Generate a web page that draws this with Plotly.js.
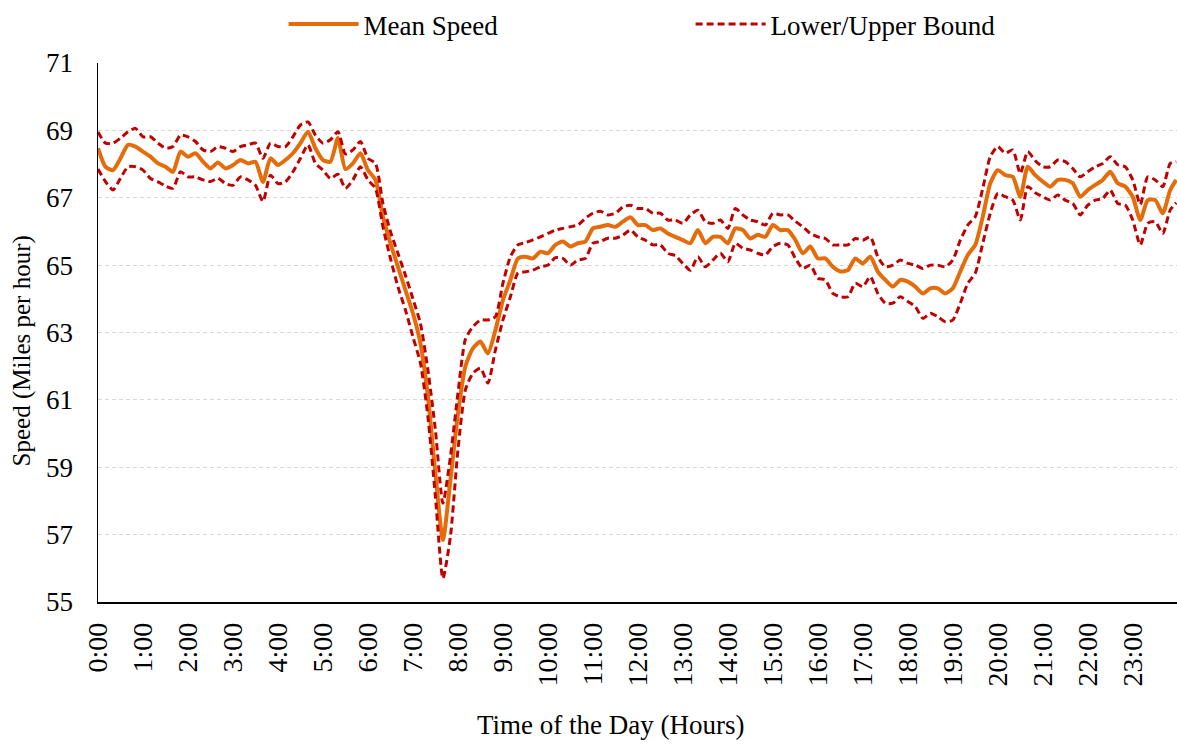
<!DOCTYPE html>
<html>
<head>
<meta charset="utf-8">
<script src="https://cdn.plot.ly/plotly-3.0.1.min.js"></script>
<style>html,body{margin:0;padding:0;background:#fff;}#chart{width:1177px;height:744px;}</style>
</head>
<body>
<div id="chart"></div>
<script>
// Time of day in minutes (10-minute sampling, last sample near midnight)
const timeMinutes = [];
for (let i = 0; i < 144; i++) timeMinutes.push(i * 10);
timeMinutes.push(1438);

const hourTickValues = [0,60,120,180,240,300,360,420,480,540,600,660,720,780,840,900,960,1020,1080,1140,1200,1260,1320,1380];
const hourTickLabels = ["0:00","1:00","2:00","3:00","4:00","5:00","6:00","7:00","8:00","9:00","10:00","11:00","12:00","13:00","14:00","15:00","16:00","17:00","18:00","19:00","20:00","21:00","22:00","23:00"];

const meanSpeed = [
68.47,67.92,67.82,68.17,68.57,68.52,68.37,68.22,68.02,67.92,67.77,68.37,
68.22,68.32,68.07,67.87,68.05,67.87,67.97,68.12,68.02,68.07,67.47,68.17,
67.97,68.12,68.32,68.62,68.96,68.47,68.12,68.07,68.77,67.85,68.02,68.32,
67.82,67.53,66.44,65.65,64.95,64.26,63.57,62.68,61.10,58.82,56.84,58.62,
60.59,62.00,62.53,62.73,62.38,63.07,63.96,64.56,65.20,65.25,65.20,65.40,
65.35,65.60,65.70,65.55,65.65,65.70,66.09,66.14,66.19,66.14,66.29,66.42,
66.19,66.19,66.04,66.09,65.94,65.84,65.74,65.65,66.04,65.65,65.84,65.84,
65.65,66.09,66.04,65.79,65.90,65.84,66.19,66.04,66.04,65.75,65.35,65.55,
65.20,65.20,64.95,64.81,64.85,65.20,65.05,65.25,64.81,64.56,64.36,64.56,
64.51,64.36,64.16,64.31,64.31,64.16,64.31,64.81,65.30,65.60,66.44,67.43,
67.82,67.67,67.62,67.03,67.92,67.67,67.48,67.33,67.53,67.53,67.43,67.03,
67.23,67.38,67.53,67.77,67.43,67.33,67.03,66.34,66.93,66.93,66.54,67.23,
67.53];

const upperBound = [
68.95,68.62,68.62,68.77,68.96,69.06,68.81,68.81,68.62,68.47,68.52,68.86,
68.81,68.67,68.42,68.37,68.52,68.47,68.37,68.52,68.57,68.62,68.17,68.62,
68.52,68.52,68.81,69.16,69.25,68.86,68.62,68.72,68.96,68.30,68.42,68.67,
68.17,68.02,66.83,66.00,65.35,64.70,64.00,63.27,61.89,60.10,57.93,59.31,
61.19,62.80,63.17,63.37,63.37,63.47,64.46,65.25,65.60,65.67,65.75,65.84,
65.94,66.04,66.09,66.14,66.19,66.39,66.54,66.60,66.49,66.54,66.73,66.78,
66.68,66.68,66.54,66.54,66.34,66.34,66.24,66.49,66.63,66.29,66.24,66.34,
66.09,66.68,66.49,66.34,66.29,66.19,66.54,66.49,66.49,66.30,66.14,65.94,
65.84,65.79,65.60,65.60,65.60,65.79,65.74,65.84,65.25,64.95,65.00,65.15,
65.05,65.00,64.90,65.00,65.00,64.95,65.15,65.74,66.19,66.44,67.28,68.22,
68.52,68.32,68.42,67.72,68.37,68.10,67.92,67.92,68.12,68.07,67.87,67.62,
67.77,67.92,68.02,68.22,67.98,67.92,67.53,66.80,67.62,67.53,67.33,68.02,
68.07];

const lowerBound = [
67.85,67.48,67.23,67.58,67.92,67.92,67.82,67.57,67.47,67.35,67.28,67.77,
67.62,67.62,67.53,67.48,67.58,67.42,67.37,67.62,67.53,67.37,66.89,67.67,
67.42,67.47,67.77,68.17,68.57,68.02,67.82,67.57,67.70,67.28,67.53,67.92,
67.53,67.28,66.14,65.20,64.36,63.67,62.87,62.09,60.50,58.13,55.70,56.94,
59.51,61.30,61.79,61.94,61.50,62.48,63.37,64.06,64.76,64.80,64.85,64.95,
65.00,65.22,65.20,65.00,65.15,65.20,65.65,65.70,65.80,65.80,65.89,66.04,
65.84,65.74,65.60,65.60,65.35,65.28,65.05,64.85,65.25,64.95,65.15,65.35,
65.10,65.65,65.50,65.45,65.35,65.30,65.55,65.65,65.60,65.20,64.90,65.00,
64.61,64.56,64.16,64.06,64.06,64.46,64.36,64.66,64.16,63.87,63.87,64.06,
63.92,63.77,63.42,63.57,63.47,63.32,63.37,63.87,64.46,64.76,65.65,66.54,
67.13,67.03,66.93,66.34,67.33,67.15,67.03,66.93,67.08,66.93,66.83,66.49,
66.78,66.93,66.98,67.23,66.83,66.78,66.34,65.60,66.24,66.29,65.94,66.64,
66.85];

const xTitle = 'Time of the Day (Hours)';
const yTitle = 'Speed (Miles per hour)';

const FONT = "'Liberation Serif', 'Times New Roman', serif";
const BOUND_DASH = '7px,4px';

const traces = [
  {x: timeMinutes, y: meanSpeed, type: 'scatter', mode: 'lines', name: 'Mean Speed',
   line: {color: '#E46C0A', width: 4, shape: 'spline', smoothing: 0.6}, legendrank: 1},
  {x: timeMinutes, y: upperBound, type: 'scatter', mode: 'lines', name: 'Lower/Upper Bound',
   legendgroup: 'bounds', line: {color: '#C00000', width: 3, dash: BOUND_DASH, shape: 'spline', smoothing: 0.6}, legendrank: 2},
  {x: timeMinutes, y: lowerBound, type: 'scatter', mode: 'lines', name: 'Lower/Upper Bound',
   legendgroup: 'bounds', showlegend: false, line: {color: '#C00000', width: 3, dash: BOUND_DASH, shape: 'spline', smoothing: 0.6}}
];

const layout = {
  width: 1177, height: 744,
  margin: {l: 98, r: 0, t: 63, b: 142},
  paper_bgcolor: '#fff', plot_bgcolor: '#fff',
  font: {family: FONT, color: '#000'},
  showlegend: true,
  legend: {orientation: 'h', x: 0.172, xanchor: 'left', y: 1.072, yanchor: 'middle',
           font: {family: FONT, size: 27, color: '#000'}, itemwidth: 70, entrywidth: 322,
           bgcolor: 'rgba(0,0,0,0)'},
  xaxis: {range: [0, 1439], tickmode: 'array', tickvals: hourTickValues, ticktext: hourTickLabels,
          tickangle: -90, showline: true, linecolor: '#000', linewidth: 1.5, showgrid: false,
          zeroline: false, ticks: '', ticklabelstandoff: 8,
          tickfont: {family: FONT, size: 28, color: '#000'}},
  yaxis: {range: [55, 71], tickmode: 'linear', tick0: 55, dtick: 2, showline: true, linecolor: '#000', linewidth: 1.5,
          showgrid: true, gridcolor: '#d9d9d9', griddash: '4px,3px', gridwidth: 1, zeroline: false, ticks: '',
          ticklabelstandoff: 18,
          tickfont: {family: FONT, size: 27, color: '#000'}},
  annotations: [
    {text: xTitle, xref: 'paper', yref: 'paper', x: 0.4754, y: -0.229, xanchor: 'center', yanchor: 'middle',
     showarrow: false, font: {family: FONT, size: 27, color: '#000'}},
    {text: yTitle, xref: 'paper', yref: 'paper', x: -0.0704, y: 0.465, xanchor: 'center', yanchor: 'middle',
     textangle: -90, showarrow: false, font: {family: FONT, size: 25, color: '#000'}}
  ]
};

Plotly.newPlot('chart', traces, layout, {displayModeBar: false, staticPlot: true});
</script>
</body>
</html>
